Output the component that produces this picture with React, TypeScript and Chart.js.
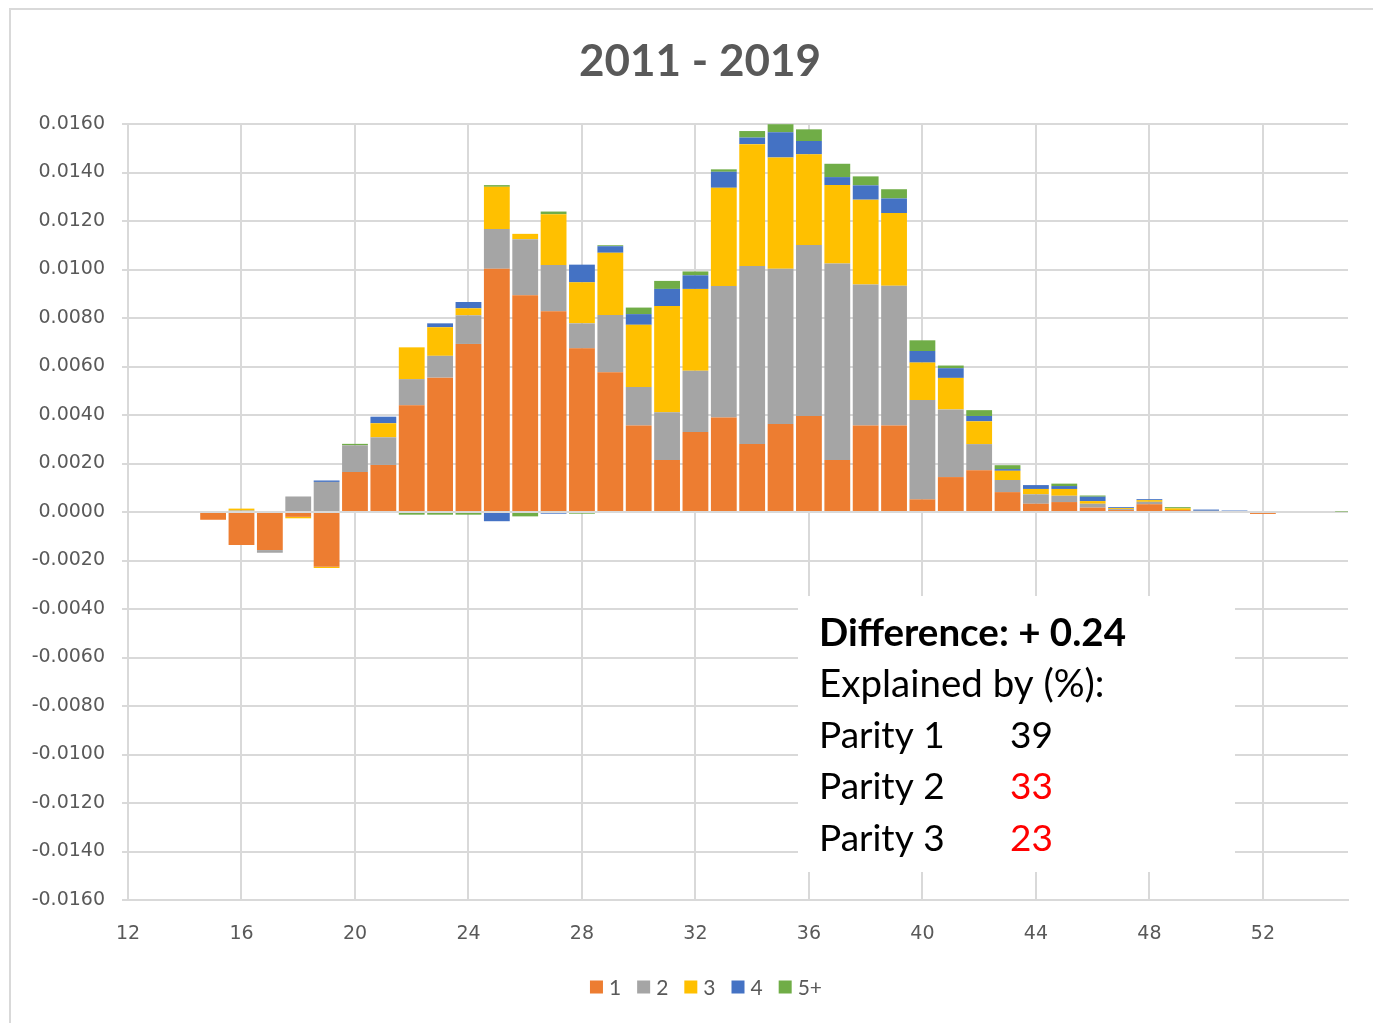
import React, { useEffect, useRef } from 'react';
import { Chart, registerables } from 'chart.js';

Chart.register(...registerables);

// ---------- data ----------
const AGES = [15, 16, 17, 18, 19, 20, 21, 22, 23, 24, 25, 26, 27, 28, 29, 30, 31, 32, 33, 34, 35, 36, 37, 38, 39, 40, 41, 42, 43, 44, 45, 46, 47, 48, 49, 50, 51, 52, 53, 54, 55];

const PARITY_1 = [-0.00032, -0.00136, -0.00157, -0.0002, -0.00226, 0.00165, 0.00194, 0.0044, 0.00554, 0.00693, 0.01003, 0.00894, 0.00828, 0.00675, 0.00576, 0.00357, 0.00214, 0.0033, 0.0039, 0.0028, 0.00363, 0.00396, 0.00214, 0.00357, 0.00357, 0.00052, 0.00144, 0.00172, 0.00082, 0.00034, 0.00041, 0.00018, 0.00008, 0.00032, 0.00008, 0, 0, -0.00008, 0, 0, -0.00004];
const PARITY_2 = [0, 0.00006, -0.00011, 0.00064, 0.00124, 0.0011, 0.00114, 0.00108, 0.0009, 0.00118, 0.00164, 0.00231, 0.00191, 0.00103, 0.00236, 0.00158, 0.00197, 0.00252, 0.00542, 0.00734, 0.0064, 0.00705, 0.00811, 0.00581, 0.00576, 0.0041, 0.00279, 0.00108, 0.0005, 0.00039, 0.00026, 0.00016, 0.00004, 0.0001, 0, 0.00005, 0, 0, 0, 0, 0];
const PARITY_3 = [0, 0.00008, 0, -0.00006, -0.00005, 0, 0.00058, 0.00131, 0.00118, 0.00029, 0.00174, 0.00022, 0.00209, 0.00169, 0.00257, 0.00257, 0.00438, 0.00338, 0.00405, 0.00503, 0.00459, 0.00374, 0.00323, 0.0035, 0.003, 0.00154, 0.0013, 0.00094, 0.00038, 0.00022, 0.00028, 0.00011, 0.00004, 0.00007, 0.00007, 0, 0, 0, 0, 0, 0];
const PARITY_4 = [0, 0, 0, 0, 0.00006, 0, 0.00027, -0.00004, 0.00016, 0.00026, -0.00038, 0, -0.00007, 0.00073, 0.00027, 0.00044, 0.00071, 0.00056, 0.00066, 0.00027, 0.00104, 0.00055, 0.00033, 0.00059, 0.0006, 0.00048, 0.0004, 0.00022, 0.00007, 0.00016, 0.00012, 0.00018, 0.00004, 0.00004, 0, 0.00005, 0.00006, 0, 0, 0, 0];
const PARITY_5 = [0, 0, 0, 0, 0, 0.00006, 0, -0.00007, -0.00011, -0.00011, 0.00007, -0.00018, 0.00011, -0.00007, 0.00004, 0.00027, 0.00033, 0.00016, 0.0001, 0.00027, 0.00033, 0.00048, 0.00055, 0.00037, 0.00038, 0.00044, 0.00011, 0.00024, 0.00016, 0, 0.0001, 0.00005, 0, 0, 0.00005, 0, 0, 0, 0, 0, 0.00002];

const SERIES_LABELS = ['1', '2', '3', '4', '5+'];
const SERIES_VALUES = [PARITY_1, PARITY_2, PARITY_3, PARITY_4, PARITY_5];
const SERIES_COLORS = ['#ED7D31', '#A5A5A5', '#FFC000', '#4472C4', '#70AD47'];

const TITLE = '2011 - 2019';
const X_MIN = 12;
const X_MAX = 55;
const X_TICKS = [12, 16, 20, 24, 28, 32, 36, 40, 44, 48, 52];
const Y_MIN = -0.016;
const Y_MAX = 0.016;
const Y_STEP = 0.002;

const NOTE_HEAD = 'Difference: + 0.24';
const NOTE_SUB = 'Explained by (%):';
const NOTE_NAMES = ['Parity 1', 'Parity 2', 'Parity 3'];
const NOTE_VALUES = ['39', '33', '23'];
const NOTE_VALUE_COLORS = ['#000000', '#FF0000', '#FF0000'];

const W = 1373;
const H = 1023;
const GRID = '#D9D9D9';
const TEXT = '#595959';

const decorPlugin = {
  id: 'decor',
  beforeDatasetsDraw(chart: any) {
    const ctx = chart.ctx;
    ctx.save();
    // text box covering grid
    ctx.fillStyle = '#FFFFFF';
    ctx.fillRect(798, 596, 437, 276);
    ctx.fillStyle = '#000000';
    ctx.textBaseline = 'middle';
    ctx.textAlign = 'left';
    ctx.font = 'bold 38.5px Lato';
    ctx.fillText(NOTE_HEAD, 819, 634);
    ctx.font = '38.5px Lato';
    ctx.fillText(NOTE_SUB, 819, 685);
    ctx.font = '37px Lato';
    NOTE_NAMES.forEach((n, i) => {
      const y = 736 + i * 51.5;
      ctx.fillStyle = '#000000';
      ctx.fillText(n, 819, y);
      ctx.fillStyle = NOTE_VALUE_COLORS[i];
      ctx.fillText(NOTE_VALUES[i], 1010, y);
    });
    ctx.restore();
  },
  afterDraw(chart: any) {
    const ctx = chart.ctx;
    ctx.save();
    // outer frame (left & top)
    ctx.strokeStyle = GRID;
    ctx.lineWidth = 2;
    ctx.beginPath();
    ctx.moveTo(10, H);
    ctx.lineTo(10, 9);
    ctx.lineTo(W, 9);
    ctx.stroke();
    // title
    ctx.fillStyle = TEXT;
    ctx.font = 'bold 44px Lato';
    ctx.textAlign = 'center';
    ctx.textBaseline = 'middle';
    ctx.fillText(TITLE, 700, 62);
    // legend
    ctx.font = '21px Lato';
    ctx.textAlign = 'left';
    const sq = 13;
    const gap = 6;
    const spacing = 16;
    const widths = chart.data.datasets.map((d: any) => sq + gap + ctx.measureText(d.label).width);
    const total = widths.reduce((a: number, b: number) => a + b, 0) + spacing * (widths.length - 1);
    let x = 706 - total / 2;
    const yc = 987;
    chart.data.datasets.forEach((d: any, i: number) => {
      ctx.fillStyle = d.backgroundColor;
      ctx.fillRect(x, yc - sq / 2, sq, sq);
      ctx.fillStyle = TEXT;
      ctx.fillText(d.label, x + sq + gap, yc + 1);
      x += widths[i] + spacing;
    });
    ctx.restore();
  },
};

export default function App() {
  const ref = useRef<HTMLCanvasElement | null>(null);

  useEffect(() => {
    if (!ref.current) return;
    const datasets = SERIES_LABELS.map((label, i) => ({
      label,
      data: AGES.map((a, j) => ({ x: a, y: SERIES_VALUES[i][j] })),
      backgroundColor: SERIES_COLORS[i],
      borderWidth: 0,
      barPercentage: 0.91,
      categoryPercentage: 1,
    }));
    const chart = new Chart(ref.current, {
      type: 'bar',
      data: { datasets },
      plugins: [decorPlugin],
      options: {
        animation: false,
        responsive: false,
        maintainAspectRatio: false,
        layout: { padding: { left: 0, top: 124, right: 25, bottom: 63 } },
        plugins: {
          legend: { display: false },
          title: { display: false },
          tooltip: { enabled: false },
        },
        scales: {
          x: {
            type: 'linear',
            stacked: true,
            min: X_MIN,
            max: X_MAX,
            offset: false,
            afterBuildTicks: (s: any) => { s.ticks = X_TICKS.map((v) => ({ value: v })); },
            ticks: {
              autoSkip: false,
              maxRotation: 0,
              color: TEXT,
              font: { family: 'DejaVu Sans', size: 19 },
              padding: 23,
              callback: (v: any) => String(v),
            },
            grid: { color: GRID, lineWidth: 2, drawTicks: false, offset: false },
            border: { display: true, color: GRID, width: 2 },
            afterFit: (s: any) => { s.height = 60; },
          },
          y: {
            stacked: true,
            min: Y_MIN,
            max: Y_MAX,
            ticks: {
              stepSize: Y_STEP,
              color: TEXT,
              font: { family: 'DejaVu Sans', size: 19 },
              padding: 17,
              callback: (v: any) => (Math.abs(v) < 1e-9 ? 0 : Number(v)).toFixed(4),
            },
            grid: { color: GRID, lineWidth: 2, drawTicks: true, tickLength: 6 },
            border: { display: true, color: GRID, width: 2 },
            afterFit: (s: any) => { s.width = 128; },
          },
        },
      } as any,
    });
    return () => chart.destroy();
  }, []);

  return (
    <div style={{ position: 'absolute', left: 0, top: 0, width: W, height: H, background: '#fff' }}>
      <canvas ref={ref} width={W} height={H} style={{ width: W, height: H, display: 'block' }} />
    </div>
  );
}
